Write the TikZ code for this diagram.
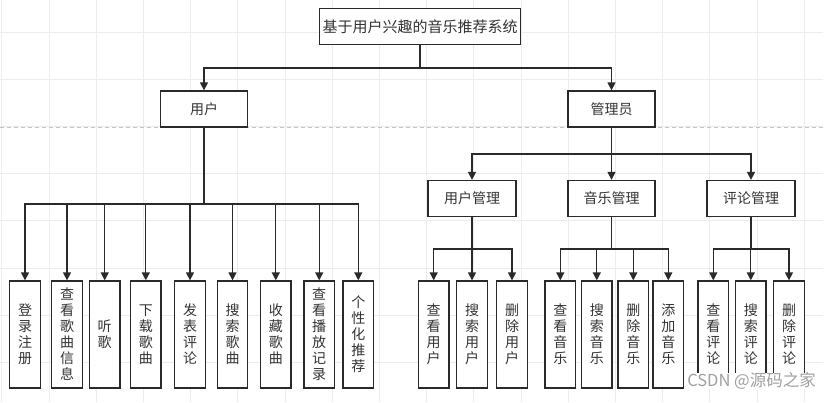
\documentclass[tikz,border=0pt]{standalone}
\usepackage{fontspec}
\setmainfont{Noto Sans CJK SC}
\usetikzlibrary{arrows.meta}
\definecolor{gridc}{HTML}{ECECEC}
\definecolor{dashc}{HTML}{C4C4C4}
\definecolor{linec}{HTML}{2A2A2A}
\definecolor{txtc}{HTML}{333333}
\definecolor{wmc}{HTML}{A0A0A0}
\tikzset{
  box/.style={draw=linec, line width=1.3pt, fill=white, inner sep=0pt, text=txtc, font=\fontsize{14}{16}\selectfont},
  midbox/.style={box, minimum width=87pt, minimum height=36pt},
  leaf/.style={box, minimum width=30.5pt, minimum height=107pt, align=center},
  arr/.style={draw=linec, line width=1.3pt, -{Triangle[width=8pt,length=8pt]}},
  ln/.style={draw=linec, line width=1.3pt},
  wmtext/.style={anchor=east, inner xsep=1pt, inner ysep=0pt, fill=white, text=wmc, font=\fontsize{16.5}{18}\selectfont}
}
\begin{document}
\begin{tikzpicture}[x=1pt,y=-1pt]
\useasboundingbox (0,0) rectangle (837,402);
\fill[white] (0,0) rectangle (837,402);
% grid
\foreach \k in {0,...,17} {
  \draw[gridc, line width=0.8pt] ({1.8+47.2*\k},0) -- ({1.8+47.2*\k},402);
}
\foreach \k in {0,...,7} {
  \draw[gridc, line width=0.8pt] (0,{32+47.2*\k}) -- (823,{32+47.2*\k});
}
\draw[dashc, line width=0.9pt, dash pattern=on 4pt off 3pt] (0,127) -- (823,127);

% nodes
\node[box, minimum width=201pt, minimum height=35.6pt, font=\fontsize{15}{17}\selectfont] (top) at (420,26.5) {基于用户兴趣的音乐推荐系统};
\node[midbox] (user) at (204,109) {用户};
\node[midbox] (admin) at (611.5,109) {管理员};
\node[midbox, minimum width=88pt] (um) at (472,198.5) {用户管理};
\node[midbox] (mm) at (611.5,198.5) {音乐管理};
\node[midbox, minimum width=88pt] (cm) at (751,198.5) {评论管理};

% user leaves
\node[leaf] (l1) at (25,334.5) {登\\录\\注\\册};
\node[leaf] (l2) at (67,334.5) {查\\看\\歌\\曲\\信\\息};
\node[leaf] (l3) at (104.7,334.5) {听\\歌};
\node[leaf] (l4) at (145.8,334.5) {下\\载\\歌\\曲};
\node[leaf] (l5) at (190,334.5) {发\\表\\评\\论};
\node[leaf] (l6) at (232.5,334.5) {搜\\索\\歌\\曲};
\node[leaf] (l7) at (275.8,334.5) {收\\藏\\歌\\曲};
\node[leaf] (l8) at (319.2,334.5) {查\\看\\播\\放\\记\\录};
\node[leaf] (l9) at (358.3,334.5) {个\\性\\化\\推\\荐};

% admin leaves
\node[leaf] (u1) at (433.7,334.5) {查\\看\\用\\户};
\node[leaf] (u2) at (472,334.5) {搜\\索\\用\\户};
\node[leaf] (u3) at (512,334.5) {删\\除\\用\\户};
\node[leaf] (m1) at (560.3,334.5) {查\\看\\音\\乐};
\node[leaf] (m2) at (596.8,334.5) {搜\\索\\音\\乐};
\node[leaf] (m3) at (633.3,334.5) {删\\除\\音\\乐};
\node[leaf] (m4) at (668.3,334.5) {添\\加\\音\\乐};
\node[leaf] (c1) at (713.3,334.5) {查\\看\\评\\论};
\node[leaf] (c2) at (750.8,334.5) {搜\\索\\评\\论};
\node[leaf] (c3) at (789,334.5) {删\\除\\评\\论};

% connectors
\coordinate (j0) at (420,68);
\draw[ln] (top.south) -- (j0);
\draw[arr] (j0) -| (user.north);
\draw[arr] (j0) -| (admin.north);

\coordinate (j1) at (611.5,154);
\draw[arr] (admin.south) -- (mm.north);
\draw[arr] (j1) -| (um.north);
\draw[arr] (j1) -| (cm.north);

\coordinate (j2) at (204,204);
\draw[ln] (user.south) -- (j2);
\foreach \n in {l1,l2,l3,l4,l5,l6,l7,l8,l9} { \draw[arr] (j2) -| (\n.north); }

\coordinate (j3) at (472,249);
\draw[ln] (um.south) -- (j3);
\foreach \n in {u1,u2,u3} { \draw[arr] (j3) -| (\n.north); }

\coordinate (j4) at (611.5,249);
\draw[ln] (mm.south) -- (j4);
\foreach \n in {m1,m2,m3,m4} { \draw[arr] (j4) -| (\n.north); }

\coordinate (j5) at (751,249);
\draw[ln] (cm.south) -- (j5);
\foreach \n in {c1,c2,c3} { \draw[arr] (j5) -| (\n.north); }

% watermark
\node[wmtext] (wm) at (817,381) {CSDN @源码之家};
\end{tikzpicture}
\end{document}
